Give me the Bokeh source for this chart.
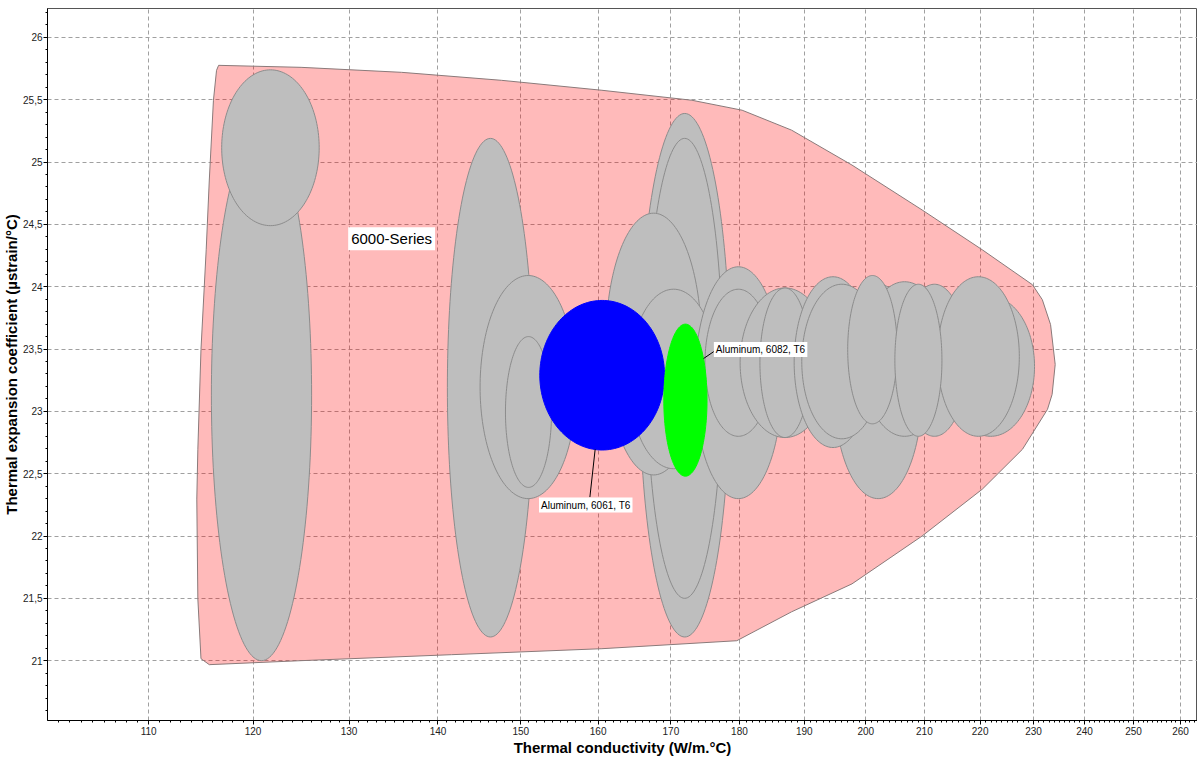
import numpy as np
from bokeh.plotting import figure
from bokeh.models import FixedTicker, Label, Range1d
from bokeh.embed import file_html
from bokeh.resources import INLINE

# ---------------- data ----------------
x_ticks = [110, 120, 130, 140, 150, 160, 170, 180, 190, 200, 210, 220, 230, 240, 250, 260]
x_tick_labels = [str(v) for v in x_ticks]
y_ticks = [21, 21.5, 22, 22.5, 23, 23.5, 24, 24.5, 25, 25.5, 26]
y_tick_labels = ["21", "21,5", "22", "22,5", "23", "23,5", "24", "24,5", "25", "25,5", "26"]

# 6000-series envelope outline (thermal conductivity, thermal expansion)
env_x = [116.6, 124.9, 135.8, 147.6, 160.5, 173.0, 180.4, 188.0, 197.7, 209.6, 220.4, 229.8,
         231.7, 233.3, 234.2, 233.6, 232.7, 227.9, 220.4, 209.6, 197.7, 188.0, 179.6, 160.5,
         141.6, 124.9, 115.7, 114.9, 114.6, 114.5, 114.6, 114.9, 115.4, 115.7, 116.1, 116.4]
env_y = [25.776, 25.76, 25.72, 25.656, 25.576, 25.496, 25.416, 25.256, 24.976, 24.616, 24.296, 24.016,
         23.896, 23.696, 23.376, 23.136, 23.016, 22.696, 22.376, 22.0, 21.616, 21.392, 21.16, 21.096,
         21.048, 21.0, 20.968, 21.016, 21.496, 22.296, 22.696, 23.496, 24.296, 24.856, 25.496, 25.736]

# grey material bubbles: ranges of conductivity and expansion
gray_xmin = [115.9, 116.9, 141.1, 145.0, 148.1, 165.6, 166.6, 161.0, 164.2, 173.4, 174.9, 180.1, 183.1,
             194.8, 188.4, 189.6, 199.4, 206.1, 214.0, 212.3, 197.0, 204.9]
gray_xmax = [126.0, 126.8, 151.6, 157.1, 153.9, 178.6, 177.5, 174.4, 176.8, 186.5, 184.9, 194.1, 190.9,
             209.6, 201.0, 202.7, 214.0, 217.6, 230.2, 227.3, 205.3, 213.1]
gray_ymin = [21.0, 24.49, 21.19, 22.30, 22.39, 21.19, 21.50, 22.49, 22.54, 22.30, 22.80, 22.79, 22.79,
             22.30, 22.71, 22.78, 22.80, 22.80, 22.80, 22.80, 22.90, 22.80]
gray_ymax = [25.26, 25.74, 25.19, 24.09, 23.60, 25.39, 25.19, 24.59, 23.98, 24.16, 23.98, 23.99, 23.99,
             24.02, 24.08, 24.02, 24.04, 24.02, 23.92, 24.08, 24.09, 24.02]

# highlighted materials
hi_names = ["Aluminum, 6061, T6", "Aluminum, 6082, T6"]
hi_colors = ["#0000ff", "#00ff00"]
hi_xmin = [152.4, 169.0]
hi_xmax = [169.1, 175.2]
hi_ymin = [22.69, 22.48]
hi_ymax = [23.89, 23.70]
hi_label_x = [152.3, 176.2]
hi_label_y = [22.248, 23.496]
leader_x0 = [159.6, 174.7]
leader_y0 = [22.696, 23.424]
leader_x1 = [158.9, 176.2]
leader_y1 = [22.312, 23.48]

series_label = "6000-Series"
series_label_x = 129.9
series_label_y = 24.384

x_label = "Thermal conductivity (W/m.°C)"
y_label = "Thermal expansion coefficient (µstrain/°C)"


def ellipse(xmin, xmax, ymin, ymax, n=160):
    t = np.linspace(0, 2 * np.pi, n, endpoint=False)
    lx0, lx1 = np.log10(xmin), np.log10(xmax)
    cx, rx = (lx0 + lx1) / 2, (lx1 - lx0) / 2
    cy, ry = (ymin + ymax) / 2, (ymax - ymin) / 2
    return list(10 ** (cx + rx * np.cos(t))), list(cy + ry * np.sin(t))


FONT = "Liberation Sans"

p = figure(width=1197, height=758, x_axis_type="log",
           x_range=Range1d(101.1, 263.7), y_range=Range1d(20.52, 26.232),
           output_backend="svg", toolbar_location=None,
           min_border_left=47, min_border_right=0, min_border_top=8, min_border_bottom=36)
p.background_fill_color = "white"
p.border_fill_color = "white"
p.outline_line_color = "#555555"

x_minor = [v for v in range(101, 264) if v % 10 != 0]
y_minor = [round(v, 1) for v in np.arange(20.6, 26.25, 0.1) if abs(round(v * 2) - v * 2) > 1e-6]

p.xaxis.ticker = FixedTicker(ticks=x_ticks, minor_ticks=x_minor)
p.yaxis.ticker = FixedTicker(ticks=y_ticks, minor_ticks=y_minor)
p.xaxis.major_label_overrides = dict(zip(x_ticks, x_tick_labels))
p.yaxis.major_label_overrides = dict(zip(y_ticks, y_tick_labels))
for ax in (p.xaxis, p.yaxis):
    ax.major_tick_out = 4
    ax.major_tick_in = 0
    ax.minor_tick_out = 2
    ax.minor_tick_in = 0
    ax.axis_line_color = "black"
    ax.major_tick_line_color = "black"
    ax.minor_tick_line_color = "black"
    ax.major_label_text_font = FONT
    ax.major_label_text_font_size = "10px"
    ax.major_label_text_color = "#222222"
    ax.axis_label_text_font = FONT
    ax.axis_label_text_font_size = "15px"
    ax.axis_label_text_font_style = "bold"
    ax.axis_label_text_color = "black"
p.xaxis.axis_label = x_label
p.yaxis.axis_label = y_label
p.xaxis.major_label_standoff = 2
p.yaxis.major_label_standoff = 1
p.xaxis.axis_label_standoff = 1
p.yaxis.axis_label_standoff = 0

for g in (p.xgrid, p.ygrid):
    g.grid_line_color = "#a0a0a0"
    g.grid_line_dash = "4 3"
    g.grid_line_width = 1

# envelope
p.patch(env_x, env_y, fill_color="#ff0000", fill_alpha=0.27, line_color="#8a7a7a", line_width=1)

# grey bubbles
gxs, gys = [], []
for a, b, c, d in zip(gray_xmin, gray_xmax, gray_ymin, gray_ymax):
    ex, ey = ellipse(a, b, c, d)
    gxs.append(ex)
    gys.append(ey)
p.patches(gxs, gys, fill_color="#bebebe", line_color="#8c8c8c", line_width=1)

# highlighted bubbles
hxs, hys = [], []
for a, b, c, d in zip(hi_xmin, hi_xmax, hi_ymin, hi_ymax):
    ex, ey = ellipse(a, b, c, d)
    hxs.append(ex)
    hys.append(ey)
p.patches(hxs, hys, fill_color=hi_colors, line_color=hi_colors, line_width=1)

p.segment(leader_x0, leader_y0, leader_x1, leader_y1, line_color="black", line_width=1)

for name, lx, ly in zip(hi_names, hi_label_x, hi_label_y):
    p.add_layout(Label(x=lx, y=ly, text=name, text_font=FONT, text_font_size="10px",
                       text_align="left", text_baseline="middle", text_color="black",
                       background_fill_color="white", padding=2))

p.add_layout(Label(x=series_label_x, y=series_label_y, text=series_label, text_font=FONT,
                   text_font_size="15px", text_align="left", text_baseline="middle",
                   text_color="black", background_fill_color="white", padding=3))

open("out.html", "w").write(file_html(p, INLINE))
